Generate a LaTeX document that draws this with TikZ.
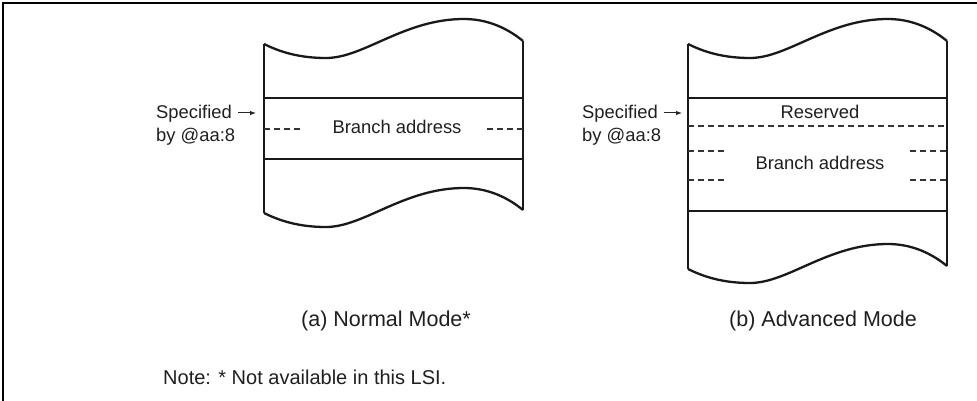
\documentclass[tikz,border=0pt]{standalone}
\usepackage{fontspec}
\setmainfont{Liberation Sans}
\usetikzlibrary{arrows.meta}

\begin{document}
\begin{tikzpicture}[
  x=1pt, y=-1pt,
  font=\fontsize{18.4}{22}\selectfont,
  frame/.style={line width=2.4pt, black},
  edge/.style={line width=2.3pt, black!90, line join=round},
  dashline/.style={line width=1.1pt, black!80, dash pattern=on 5.5pt off 4.5pt},
  lbl/.style={inner sep=0pt, text=black!88},
  caption/.style={lbl, font=\fontsize{21.5}{25}\selectfont},
  tip/.style={-{Latex[length=6pt,width=4.5pt]}, line width=1pt, black!85},
  wave/.pic={
    \draw[edge] (0,0) .. controls (20,10) and (40,14) .. (62,14)
      .. controls (100,14) and (140,-25) .. (200,-25)
      .. controls (228,-25) and (248,-12) .. (259,-3);
  },
]
\useasboundingbox (0,0) rectangle (977,401);

% Outer frame (top and left only)
\draw[frame] (977,3) -- (3,3) -- (3,401);

% (a) Normal mode
\draw[edge] (264,213) -- (264,44);
\draw[edge] (523,41) -- (523,210);
\pic at (264,44) {wave};
\pic at (264,213) {wave};
\draw[edge] (264,98) -- (523,98);
\draw[edge] (264,159) -- (523,159);
\draw[dashline] (264,129) -- (300,129);
\draw[dashline] (487,129) -- (523,129);
\node[lbl, anchor=base] (brA) at (397,134) {Branch address};
\node[lbl, anchor=base west] (specA) at (156,119) {Specified};
\node[lbl, anchor=base west] (byA) at (156,142) {by @aa:8};
\coordinate (ptrA) at (256,113);
\draw[tip] ([xshift=6]specA.east |- ptrA) -- (ptrA);
\node[caption, anchor=base] (capA) at (386,326) {(a) Normal Mode*};

% (b) Advanced mode
\draw[edge] (688,269) -- (688,44);
\draw[edge] (947,41) -- (947,266);
\pic at (688,44) {wave};
\pic at (688,269) {wave};
\draw[edge] (688,98) -- (947,98);
\draw[edge] (688,211) -- (947,211);
\draw[dashline] (688,126) -- (947,126);
\foreach \y in {151,180} {
  \draw[dashline] (688,\y) -- (725,\y);
  \draw[dashline] (910,\y) -- (947,\y);
}
\node[lbl, anchor=base] (resB) at (820,119) {Reserved};
\node[lbl, anchor=base] (brB) at (820,169) {Branch address};
\node[lbl, anchor=base west] (specB) at (582,119) {Specified};
\node[lbl, anchor=base west] (byB) at (582,142) {by @aa:8};
\coordinate (ptrB) at (682,113);
\draw[tip] ([xshift=6]specB.east |- ptrB) -- (ptrB);
\node[caption, anchor=base] (capB) at (823,326) {(b) Advanced Mode};

% Footnote
\node[lbl, anchor=base west, font=\fontsize{20}{24}\selectfont] (note) at (163,384)
  {Note: * Not available in this LSI.};

\end{tikzpicture}
\end{document}
